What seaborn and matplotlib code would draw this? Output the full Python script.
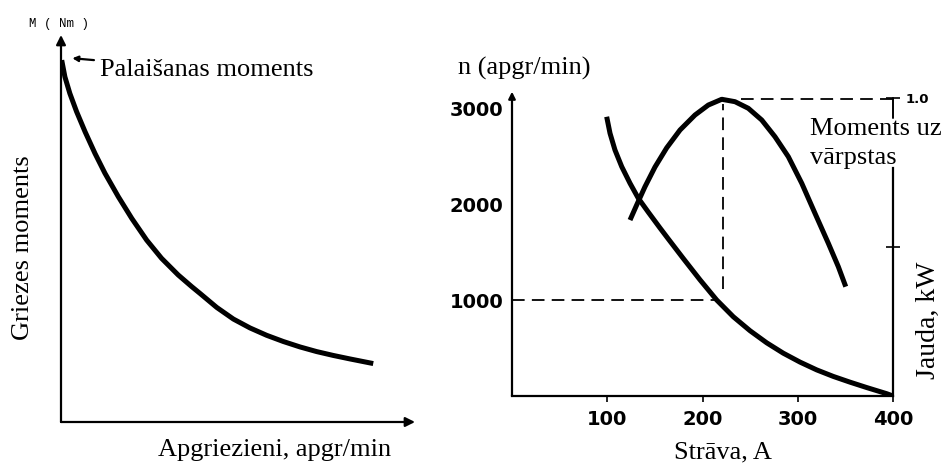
import matplotlib
matplotlib.use("Agg")
import matplotlib.pyplot as plt
import seaborn as sns
import pandas as pd

# Kreisā līkne: griezes moments pret apgriezieniem (relatīvās vienības 0..10)
griez_x = [0.02, 0.11, 0.25, 0.44, 0.68, 0.96, 1.24, 1.62, 2.00, 2.42,
           2.84, 3.31, 3.69, 3.93, 4.40, 4.87, 5.34, 5.81, 6.28, 6.75,
           7.22, 7.69, 8.16, 8.82]
griez_y = [9.35, 8.92, 8.49, 8.02, 7.50, 6.94, 6.43, 5.82, 5.26, 4.70,
           4.23, 3.80, 3.50, 3.32, 2.96, 2.66, 2.43, 2.24, 2.08, 1.94,
           1.82, 1.72, 1.63, 1.51]

# Labā puse: apgriezieni pret strāvu
strava_n = [99.4, 102.9, 108.1, 115.2, 123.9, 132.6, 143.1, 155.4, 164.1,
            179.8, 197.4, 214.9, 232.3, 249.9, 267.4, 284.8, 302.4, 319.9,
            337.3, 354.9, 372.4, 393.4, 400.0]
apgr_n = [2909, 2737, 2563, 2389, 2216, 2060, 1915, 1750, 1636,
          1433, 1210, 1000, 826, 680, 554, 446, 353, 272,
          204, 144, 88, 24, 0]

# Moments uz vārpstas / jauda (kupris), skalā ar apgriezieniem
strava_m = [123.9, 130.9, 139.6, 150.1, 162.4, 176.4, 192.1, 206.1, 220.2,
            234.1, 248.1, 262.2, 276.1, 290.1, 304.2, 318.1, 332.1, 342.6,
            350.4]
moments_m = [1833, 1990, 2180, 2385, 2585, 2771, 2927, 3031, 3091,
             3066, 2997, 2875, 2701, 2493, 2216, 1903, 1591, 1347,
             1139]

x_ticks = [100, 200, 300, 400]
y_ticks = [1000, 2000, 3000]
jauda_ticks = [0.5, 1.0]
jauda_labels = ["", "1.0"]

nominala_strava = 222
nominalie_apgr = 1000
max_moments = 3094

sns.set_theme(style="white")
plt.rcParams["font.family"] = ["Liberation Serif", "DejaVu Serif"]
plt.rcParams["text.color"] = "black"

W, H = 943, 465
fig = plt.figure(figsize=(W / 100, H / 100), dpi=100)


def fx(px):
    return px / W


def fy(py):
    return 1 - py / H


melns = "black"
serif = 19

# ---------- kreisais grafiks ----------
ax1 = fig.add_axes([fx(61), fy(422), fx(415 - 61), (422 - 35) / H])
df1 = pd.DataFrame({"x": griez_x, "y": griez_y})
sns.lineplot(data=df1, x="x", y="y", ax=ax1, color=melns, lw=3.6,
             solid_capstyle="butt")
ax1.set_xlim(0, 10)
ax1.set_ylim(0, 10)
for s in ax1.spines.values():
    s.set_visible(False)
ax1.set_xticks([])
ax1.set_yticks([])
ax1.set_xlabel("")
ax1.set_ylabel("")
ax1.annotate("", xy=(0, 1), xytext=(0, 0), xycoords="axes fraction",
             arrowprops=dict(arrowstyle="-|>", lw=1.6, color=melns,
                             mutation_scale=14, shrinkA=0, shrinkB=0))
ax1.annotate("", xy=(1, 0), xytext=(0, 0), xycoords="axes fraction",
             arrowprops=dict(arrowstyle="-|>", lw=1.6, color=melns,
                             mutation_scale=14, shrinkA=0, shrinkB=0))
ax1.annotate("Palaišanas moments", xy=(griez_x[0] + 0.3, griez_y[0] + 0.05),
             xytext=(fx(100), fy(70)), textcoords="figure fraction",
             fontsize=serif, va="center", ha="left",
             arrowprops=dict(arrowstyle="-|>", lw=1.6, color=melns,
                             mutation_scale=8, shrinkA=2, shrinkB=0))
fig.text(fx(59), fy(24), "M ( Nm )",
         family=["Liberation Mono", "DejaVu Sans Mono"],
         fontsize=9, ha="center", va="center")
fig.text(fx(23), fy(248), "Griezes moments", fontsize=serif, rotation=90,
         ha="center", va="center")
fig.text(fx(275), fy(450), "Apgriezieni, apgr/min", fontsize=serif,
         ha="center", va="center")

# ---------- labais grafiks ----------
ax2 = fig.add_axes([fx(512), fy(396), fx(381), 304.3 / H])
df_n = pd.DataFrame({"I": strava_n, "n": apgr_n})
df_m = pd.DataFrame({"I": strava_m, "M": moments_m})
sns.lineplot(data=df_n, x="I", y="n", ax=ax2, color=melns, lw=3.6,
             solid_capstyle="butt")
sns.lineplot(data=df_m, x="I", y="M", ax=ax2, color=melns, lw=3.6,
             solid_capstyle="butt")
ax2.set_xlim(0, 400)
ax2.set_ylim(0, 3170)
ax2.set_xlabel("")
ax2.set_ylabel("")
for k in ["top", "right"]:
    ax2.spines[k].set_visible(False)
ax2.spines["bottom"].set_linewidth(1.6)
ax2.spines["bottom"].set_color(melns)
ax2.spines["left"].set_visible(False)
ax2.annotate("", xy=(0, 1), xytext=(0, 0), xycoords="axes fraction",
             arrowprops=dict(arrowstyle="-|>", lw=1.6, color=melns,
                             mutation_scale=10, shrinkA=0, shrinkB=0))
ax2.set_xticks(x_ticks)
ax2.set_yticks(y_ticks)
ax2.tick_params(axis="x", length=4, width=1.2, color=melns, pad=6,
                bottom=True)
ax2.tick_params(axis="y", length=0, pad=6)
for lab in ax2.get_xticklabels() + ax2.get_yticklabels():
    lab.set_family(["DejaVu Sans"])
    lab.set_fontweight("bold")
    lab.set_fontsize(14)
    lab.set_color(melns)

dash = dict(color=melns, lw=1.3, linestyle=(0, (7, 4)))
ax2.hlines(nominalie_apgr, 0, nominala_strava - 7, **dash)
ax2.vlines(nominala_strava, nominalie_apgr + 110, max_moments - 50, **dash)
ax2.hlines(max_moments, nominala_strava + 18, 400, **dash)

# jaudas ass labajā pusē
ax3 = ax2.twinx()
ax3.set_ylim(0, 3170 / 3100)
ax3.set_yticks(jauda_ticks)
ax3.set_yticklabels(jauda_labels)
for k in ["top", "left", "bottom"]:
    ax3.spines[k].set_visible(False)
ax3.spines["right"].set_bounds(0, 0.766)
ax3.spines["right"].set_linewidth(1.6)
ax3.spines["right"].set_color(melns)
ax3.tick_params(axis="y", direction="inout", length=10, width=1.2,
                color=melns, pad=4)
for lab in ax3.get_yticklabels():
    lab.set_family(["DejaVu Sans"])
    lab.set_fontsize(9.5)
    lab.set_fontweight("bold")
    lab.set_color(melns)
ax3.plot([400, 400], [0.935, 1.0], color=melns, lw=1.4, clip_on=False)
ax3.grid(False)
ax2.grid(False)

fig.text(fx(524), fy(68), "n (apgr/min)", fontsize=serif, ha="center",
         va="center")
fig.text(fx(810), fy(129), "Moments uz", fontsize=serif, ha="left",
         va="center")
fig.text(fx(810), fy(158), "vārpstas", fontsize=serif, ha="left",
         va="center")
fig.text(fx(928), fy(320), "Jauda, kW", fontsize=20, rotation=90,
         ha="center", va="center")
fig.text(fx(723), fy(452), "Strāva, A", fontsize=serif, ha="center",
         va="center")

fig.savefig("out.png", dpi=100)
